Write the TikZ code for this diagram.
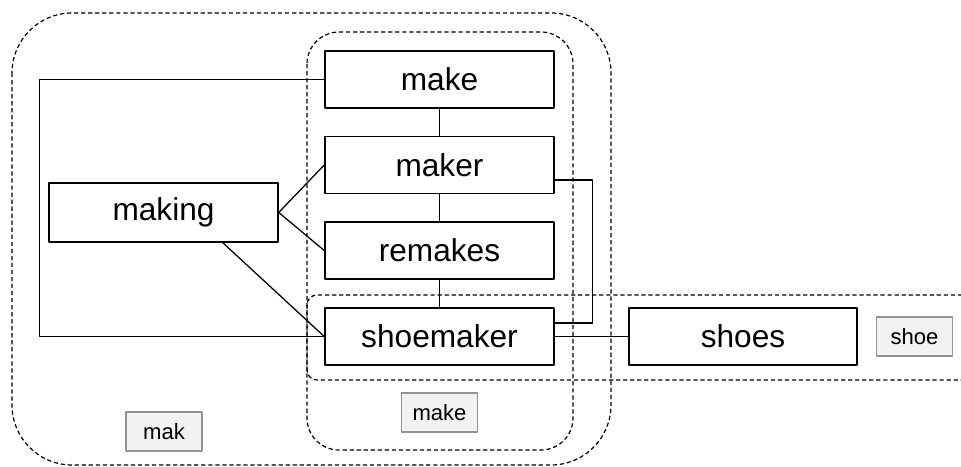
\documentclass[tikz,border=0pt]{standalone}
\usepackage{fontspec}
\setmainfont{Liberation Sans}
\usetikzlibrary{calc}

\begin{document}
\begin{tikzpicture}[line join=round,x=0.025cm,y=-0.025cm,
		word/.style={draw,fill=white,line width=1pt,inner sep=0pt,minimum width=5.725cm,minimum height=1.425cm,font=\fontsize{22.5}{25}\selectfont},
		tag/.style={draw=gray!85,fill=gray!10,line width=0.8pt,inner sep=0pt,minimum width=1.9cm,minimum height=0.975cm,font=\fontsize{15.7}{18}\selectfont},
		group/.style={line width=0.85pt,dash pattern=on 3pt off 2pt},
		link/.style={line width=0.9pt}]
			\clip(0,0) rectangle (961,467);
			% groups
			\draw [group,rounded corners=1.5cm] (12,13) rectangle (611,465);
			\draw [group,rounded corners=0.8cm] (307,32) rectangle (573,450);
			\draw [group,rounded corners=0.25cm] (307,295) rectangle (990,380);
			% words
			\node [word] (make) at (439.5,79.5) {make};
			\node [word] (maker) at (439.5,165) {maker};
			\node [word] (remakes) at (439.5,250.5) {remakes};
			\node [word] (shoemaker) at (439.5,336.5) {shoemaker};
			\node [word,minimum height=1.475cm] (making) at (163.5,212.5) {making};
			\node [word,minimum width=5.7cm] (shoes) at (743,336.5) {shoes};
			% group tags
			\node [tag] (tagmak) at (164,431.5) {mak};
			\node [tag] (tagmake) at (439.5,412.5) {make};
			\node [tag] (tagshoe) at (914.5,336.5) {shoe};
			% links
			\draw [link] (make) -- (maker);
			\draw [link] (maker) -- (remakes);
			\draw [link] (remakes) -- (shoemaker);
			\draw [link] (making.east) -- (maker.west);
			\draw [link] (making.east) -- (remakes.west);
			\draw [link] (making.-27) -- (shoemaker.west);
			\draw [link] (make.west) -- ++(-285,0) |- (shoemaker.west);
			\draw [link] ($(maker.east)+(0,15)$) -- ++(38,0) |- ($(shoemaker.east)+(0,-13.5)$);
			\draw [link] (shoemaker.east) -- (shoes.west);
		\end{tikzpicture}
\end{document}
